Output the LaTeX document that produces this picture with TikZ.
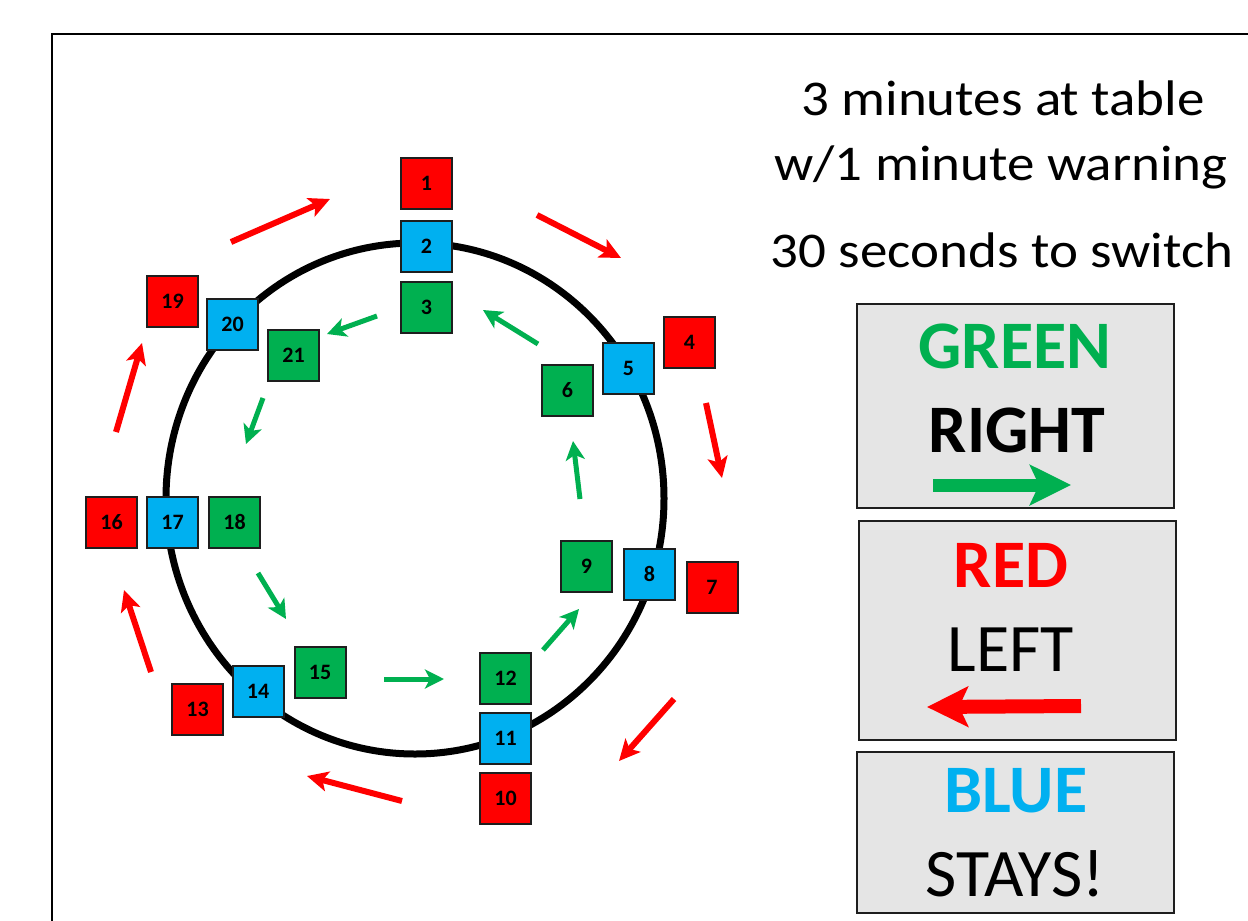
\documentclass[tikz,border=0pt]{standalone}
\usepackage{fontspec}
\setmainfont{Carlito}
\usetikzlibrary{arrows.meta}
\definecolor{cred}{HTML}{FF0000}
\definecolor{cgreen}{HTML}{00B050}
\definecolor{cblue}{HTML}{00B0F0}
\definecolor{lgray}{HTML}{E5E5E5}
\definecolor{edge}{HTML}{1E1E1E}
\begin{document}
\begin{tikzpicture}[x=1pt,y=-1pt,
  seat/.style={draw=edge, line width=2pt, minimum size=51pt, inner sep=0pt,
    font=\fontsize{22}{22}\selectfont\bfseries, text=black},
  rseat/.style={seat, fill=cred},
  bseat/.style={seat, fill=cblue},
  gseat/.style={seat, fill=cgreen},
  rarr/.style={draw=cred, line width=6pt, -{Stealth[length=21pt,width=20pt,inset=5pt]}},
  garr/.style={draw=cgreen, line width=5pt, -{Stealth[length=19pt,width=19pt,inset=5pt]}},
  legbox/.style={draw=edge, line width=2pt, fill=lgray, inner sep=0pt},
  toptext/.style={anchor=base, inner sep=0pt, xscale=1.1, font=\fontsize{50}{50}\selectfont},
  legtext/.style={anchor=base, inner sep=0pt, font=\fontsize{68}{68}\selectfont},
  legbold/.style={legtext, font=\fontsize{68}{68}\selectfont\bfseries}
]
\useasboundingbox (0,0) rectangle (1248,921);
\clip (0,0) rectangle (1248,921);
\fill[white] (0,0) rectangle (1248,921);
\draw[line width=2.5pt] (52,34) rectangle (1300,1000);

% table ring
\draw[line width=7pt] (415,498.5) ellipse [x radius=249pt, y radius=255.5pt];

% seats
\node[rseat] (b1) at (426.5,183.5) {1};
\node[bseat] (b2) at (426.5,246) {2};
\node[gseat] (b3) at (426.5,307) {3};
\node[rseat] (b4) at (689.5,342.5) {4};
\node[bseat] (b5) at (628.5,368.5) {5};
\node[gseat] (b6) at (567.5,390) {6};
\node[rseat] (b7) at (712,587) {7};
\node[bseat] (b8) at (649.5,574) {8};
\node[gseat] (b9) at (586.5,566) {9};
\node[rseat] (b10) at (505.5,798) {10};
\node[bseat] (b11) at (505.5,738) {11};
\node[gseat] (b12) at (505.5,678) {12};
\node[rseat] (b13) at (197.5,709) {13};
\node[bseat] (b14) at (258,691) {14};
\node[gseat] (b15) at (320,672) {15};
\node[rseat] (b16) at (111.5,522) {16};
\node[bseat] (b17) at (172.5,522) {17};
\node[gseat] (b18) at (234.5,522) {18};
\node[rseat] (b19) at (172.5,301) {19};
\node[bseat] (b20) at (232.5,324.5) {20};
\node[gseat] (b21) at (293.5,355.5) {21};

% red (outer) arrow end points
\coordinate (ra1) at (231,242); \coordinate (rb1) at (330,199);
\coordinate (ra2) at (537,215); \coordinate (rb2) at (621,258);
\coordinate (ra3) at (706,403); \coordinate (rb3) at (722,478);
\coordinate (ra4) at (674,699); \coordinate (rb4) at (619,761);
\coordinate (ra5) at (402,801); \coordinate (rb5) at (307,776);
\coordinate (ra6) at (151,672); \coordinate (rb6) at (124,590);
\coordinate (ra7) at (116,432); \coordinate (rb7) at (142,343);
\foreach \i in {1,...,7} { \draw[rarr] (ra\i) -- (rb\i); }

% green (inner) arrow end points
\coordinate (ga1) at (377,316); \coordinate (gb1) at (327,334);
\coordinate (ga2) at (263,398); \coordinate (gb2) at (246,444);
\coordinate (ga3) at (258,573); \coordinate (gb3) at (286,619);
\coordinate (ga4) at (384,679); \coordinate (gb4) at (444,679);
\coordinate (ga5) at (543,650); \coordinate (gb5) at (579,609);
\coordinate (ga6) at (580,499); \coordinate (gb6) at (573,441);
\coordinate (ga7) at (538,344); \coordinate (gb7) at (483,310);
\foreach \i in {1,...,7} { \draw[garr] (ga\i) -- (gb\i); }

% instructions
\node[toptext] (t1) at (1003,115) {3 minutes at table};
\node[toptext] (t2) at (1001,180) {w/1 minute warning};
\node[toptext] (t3) at (1002,267) {30 seconds to switch};

% legend boxes
\node[legbox, minimum width=317pt, minimum height=204pt] (lg1) at (1015.5,406) {};
\node[legbox, minimum width=317pt, minimum height=219pt] (lg2) at (1017.5,630.5) {};
\node[legbox, minimum width=317pt, minimum height=161pt] (lg3) at (1015.5,832.5) {};

\node[legbold, text=cgreen] (green) at (1015,368) {GREEN};
\node[legbold, text=black] (right) at (1017,452) {RIGHT};
\coordinate (gla) at (933,485); \coordinate (glb) at (1071,485);
\draw[draw=cgreen, line width=13pt, -{Stealth[length=41pt,width=40pt,inset=9pt]}] (gla) -- (glb);

\node[legbold, text=cred] (red) at (1011,587) {RED};
\node[legtext, text=black] (left) at (1011,671) {LEFT};
\coordinate (rla) at (1081,706); \coordinate (rlb) at (927,707);
\draw[draw=cred, line width=14pt, -{Stealth[length=41pt,width=40pt,inset=9pt]}] (rla) -- (rlb);

\node[legbold, text=cblue] (blue) at (1016,812) {BLUE};
\node[legtext, text=black] (stays) at (1015,896) {STAYS!};
\end{tikzpicture}
\end{document}
